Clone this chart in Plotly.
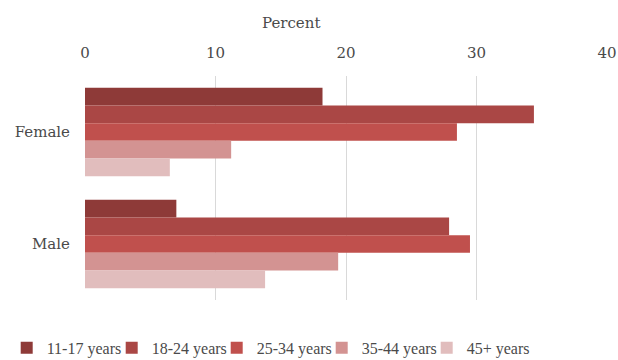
import plotly.graph_objects as go

categories = ["Female", "Male"]
series_names = ["11-17 years", "18-24 years", "25-34 years", "35-44 years", "45+ years"]
values = {
    "11-17 years": [18.2, 7.0],
    "18-24 years": [34.4, 27.9],
    "25-34 years": [28.5, 29.5],
    "35-44 years": [11.2, 19.4],
    "45+ years": [6.5, 13.8],
}
colors = ["#8E3A38", "#AA4745", "#C0504D", "#D39392", "#E1BDBD"]
x_ticks = [0, 10, 20, 30, 40]
axis_title = "Percent"

FONT = "DejaVu Serif"
LEGEND_FONT = "Liberation Serif"
GRAY = "#4A4A4A"

fig = go.Figure()
for name, col in zip(series_names, colors):
    fig.add_trace(go.Bar(
        y=categories, x=values[name], name=name, orientation="h",
        marker=dict(color=col, line=dict(width=0)),
    ))

fig.update_layout(
    width=618, height=360,
    margin=dict(l=85, r=11, t=76, b=60, autoexpand=False),
    paper_bgcolor="white", plot_bgcolor="white",
    barmode="group", bargap=0.21, bargroupgap=0,
    font=dict(family=FONT, color=GRAY, size=15),
    xaxis=dict(
        side="top", range=[0, 40], tickvals=x_ticks, ticktext=[str(t) for t in x_ticks],
        showgrid=True, gridcolor="#D9D9D9", gridwidth=1, zeroline=False,
        showline=False, ticks="", tickfont=dict(size=15, color=GRAY),
        ticklabelstandoff=14, automargin=False,
    ),
    yaxis=dict(
        autorange="reversed", showgrid=False, zeroline=False,
        showline=False, ticks="", ticklabelstandoff=14, automargin=False,
        tickfont=dict(size=15, color=GRAY),
    ),
    legend=dict(
        orientation="h", x=-0.15, xanchor="left", y=-0.214, yanchor="middle",
        font=dict(family=LEGEND_FONT, size=16, color=GRAY),
        entrywidth=60, entrywidthmode="pixels",
        traceorder="normal", tracegroupgap=0, itemwidth=30,
    ),
    annotations=[dict(
        text=axis_title, xref="paper", yref="paper", x=0.3946, y=1.2366,
        xanchor="center", yanchor="middle", showarrow=False,
        font=dict(family=FONT, size=15, color=GRAY),
    )],
)

fig.write_html("out.html")
